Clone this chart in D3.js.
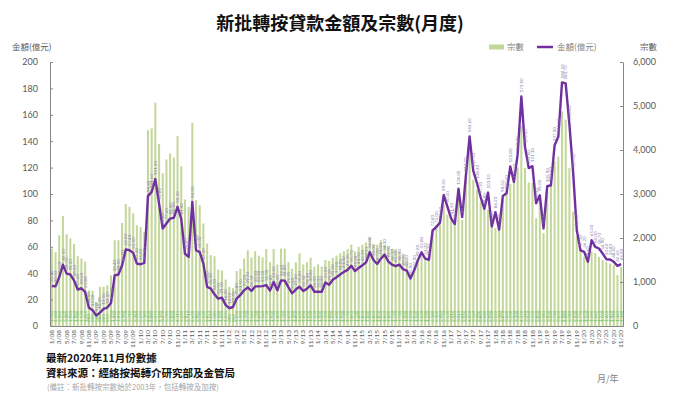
<!DOCTYPE html>
<html><head><meta charset="utf-8">
<script src="https://cdn.jsdelivr.net/npm/d3@7"></script>
<style>body{margin:0;background:#fff}svg{display:block}</style>
</head><body>
<svg id="c" width="673" height="411"></svg>
<script>
// 新批轉按貸款金額 (億元), 1/08 - 11/20
const amount = [
30.3,30,37,46.5,39.7,39,34.6,27.6,28.6,25.8,
14,12,8,10,13,14,17.4,38.4,39,46,
58,57.4,55.4,47.3,46.8,47.8,98.4,101.6,111.3,92.8,
73.8,77.6,81.4,82,90.3,81.4,54.9,52.3,94,57.4,
56,47.3,29.6,28.3,24,20.7,21.5,16,13.5,14.4,
20.8,23.5,27,29.3,26.5,30,30,30.2,31,26.8,
33.4,27,34.6,34.4,29.3,24.8,27.6,29.8,26.5,28.3,
30.8,26,26,26,33,31.2,35,37,39,41,
42.5,45.7,41.6,44,46,48.2,56,50,47,51,
54.1,49,46.5,45.3,46.5,43,42,35.9,42,49.8,
55.8,51,50.2,72.4,75,78.5,99.3,90.5,81.5,77.2,
104,82.5,114,143.6,117.5,108.3,97.5,88.8,101.1,75.4,
86.2,73,98.5,100.5,120.8,109.2,130,173.9,135.5,119.6,
121.1,92.9,99,73.9,105.9,106.6,137,143.3,184.5,183.7,
153,117,72.5,57.3,56.2,48.6,65,60,58.7,54.9,
50.6,50.4,48.6,45.6,46.8
];
// 宗數
const cases = [
1760,1680,2060,2500,2085,1990,1860,1585,1530,1460,
810,800,546,890,890,925,1150,1950,1950,2340,
2770,2710,2560,2290,2250,2140,4450,4490,5075,4135,
3470,3785,3920,3830,4315,3635,2875,2710,4620,2860,
2745,2330,1875,1610,1585,1280,1265,1055,890,860,
1250,1300,1530,1720,1560,1700,1600,1560,1750,1450,
1750,1400,1760,1760,1450,1300,1450,1650,1400,1450,
1550,1350,1400,1350,1500,1480,1550,1600,1650,1700,
1750,1850,1700,1800,1850,1900,2000,1850,1850,1950,
1850,1800,1750,1750,1700,1600,1500,1200,1350,1500,
1620,1500,1650,2180,2300,2490,2750,2530,2410,2335,
3060,2410,3320,4050,3324,3096,2829,2640,2640,2259,
2222,2183,2870,3020,3230,3300,3600,4550,3590,3260,
3250,2450,2900,2110,3050,3200,3740,3850,4880,4690,
3590,2600,2030,1770,1570,1500,1690,1660,1570,1500,
1460,1420,1390,1160,1340
];
const leftTicks = [0,20,40,60,80,100,120,140,160,180,200];
const rightTicks = [0,1000,2000,3000,4000,5000,6000];
const categories = [];
for (let y = 8; y <= 20; y++) {
  for (let m = 1; m <= 12; m++) {
    if (y === 20 && m > 11) break;
    categories.push(m + "/" + String(y).padStart(2, "0"));
  }
}
const tickLabels = categories.filter((d, i) => i % 2 === 0);

const svg = d3.select("#c");
const barColor = "#c4d79b", lineColor = "#7030a0", axisColor = "#595959";
const latin = "Lato, 'Open Sans', sans-serif";
const cjk = "'Noto Sans CJK TC', 'Noto Sans CJK SC', sans-serif";

const x = d3.scaleBand().domain(categories).range([50, 623]).paddingInner(0.45).paddingOuter(0.225);
const yL = d3.scaleLinear().domain([0, 200]).range([326, 62]);
const yR = d3.scaleLinear().domain([0, 6000]).range([326, 62]);
const cx = d => x(d) + x.bandwidth() / 2;

// Title
svg.append("text").attr("x", 340).attr("y", 30).attr("text-anchor", "middle")
  .style("font-family", cjk).style("font-size", "18px").style("font-weight", "bold").attr("fill", "#111")
  .text("新批轉按貸款金額及宗數(月度)");

// Axis titles
svg.append("text").attr("x", 12).attr("y", 50).style("font-family", cjk).style("font-size", "8.5px")
  .attr("fill", axisColor).text("金額(億元)");
svg.append("text").attr("x", 640).attr("y", 50).style("font-family", cjk).style("font-size", "8.5px")
  .attr("fill", axisColor).text("宗數");

// Legend
svg.append("rect").attr("x", 489).attr("y", 44.5).attr("width", 15).attr("height", 5).attr("fill", barColor);
svg.append("text").attr("x", 507).attr("y", 50).style("font-family", cjk).style("font-size", "8.5px")
  .attr("fill", "#7f7f7f").text("宗數");
svg.append("line").attr("x1", 537).attr("x2", 553).attr("y1", 47).attr("y2", 47)
  .attr("stroke", lineColor).attr("stroke-width", 2.5);
svg.append("text").attr("x", 557).attr("y", 50).style("font-family", cjk).style("font-size", "8.5px")
  .attr("fill", "#7f7f7f").text("金額(億元)");

// Bars
svg.append("g").selectAll("rect").data(cases).join("rect")
  .attr("x", (d, i) => x(categories[i])).attr("width", x.bandwidth())
  .attr("y", d => yR(d)).attr("height", d => yR(0) - yR(d)).attr("fill", barColor);

// Bar value labels
svg.append("g").selectAll("text").data(cases).join("text")
  .attr("transform", (d, i) => `translate(${cx(categories[i])},322) rotate(-90)`)
  .attr("dy", "0.35em").style("font-family", latin).style("font-size", "4.5px")
  .attr("fill", "#5cb85c").text(d => d3.format(",")(d));

// Line
const line = d3.line().x((d, i) => cx(categories[i])).y(d => yL(d));
svg.append("path").datum(amount).attr("d", line).attr("fill", "none")
  .attr("stroke", lineColor).attr("stroke-width", 2.4).attr("stroke-linejoin", "round");

// Line value labels
svg.append("g").selectAll("text").data(amount).join("text")
  .attr("transform", (d, i) => `translate(${cx(categories[i])},${yL(d) - 4}) rotate(-90)`)
  .attr("dy", "0.35em").style("font-family", latin).style("font-size", "4.5px")
  .attr("fill", "#8a7aa8").text(d => d.toFixed(2));

// Axes
const styleAxis = g => {
  g.select(".domain").attr("stroke", "#868686");
  g.selectAll(".tick line").attr("stroke", "#868686");
  g.selectAll("text").attr("fill", axisColor).style("font-family", latin);
};
svg.append("g").attr("transform", "translate(50,0)")
  .call(d3.axisLeft(yL).tickValues(leftTicks).tickSize(-3).tickSizeOuter(0).tickPadding(12))
  .call(styleAxis).selectAll("text").style("font-size", "9px");
svg.append("g").attr("transform", "translate(623,0)")
  .call(d3.axisRight(yR).tickValues(rightTicks).tickFormat(d3.format(",")).tickSize(-3).tickSizeOuter(0).tickPadding(10))
  .call(styleAxis).selectAll("text").style("font-size", "9px");
const xa = svg.append("g").attr("transform", "translate(0,326)")
  .call(d3.axisBottom(x).tickValues(tickLabels).tickSize(0).tickSizeOuter(0))
  .call(styleAxis);
xa.selectAll("text").attr("transform", "rotate(-90)").attr("text-anchor", "end")
  .attr("x", -4).attr("y", 0).attr("dy", "0.32em").style("font-size", "6.5px");

// Footer
svg.append("text").attr("x", 46).attr("y", 362).style("font-family", cjk).style("font-size", "10.5px")
  .style("font-weight", "bold").attr("fill", "#111").text("最新2020年11月份數據");
svg.append("text").attr("x", 46).attr("y", 377).style("font-family", cjk).style("font-size", "10.5px")
  .style("font-weight", "bold").attr("fill", "#111").text("資料來源：經絡按揭轉介研究部及金管局");
svg.append("text").attr("x", 47).attr("y", 390).style("font-family", cjk).style("font-size", "7.5px")
  .attr("fill", "#a6a6a6").text("(備註：新批轉按宗數始於2003年，包括轉按及加按)");
svg.append("text").attr("x", 597).attr("y", 382).style("font-family", cjk).style("font-size", "9px")
  .attr("fill", "#7f7f7f").text("月/年");
</script>
</body></html>
